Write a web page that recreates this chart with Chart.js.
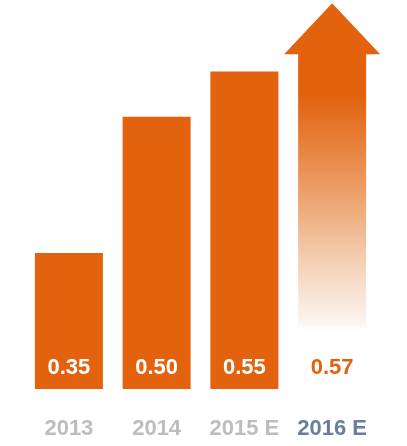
<!DOCTYPE html>
<html>
<head>
<meta charset="utf-8">
<script src="https://cdn.jsdelivr.net/npm/chart.js@4/dist/chart.umd.min.js"></script>
<style>
  html, body { margin: 0; padding: 0; background: #fff; }
  #wrap { width: 407px; height: 446px; position: relative; }
</style>
</head>
<body>
<div id="wrap"><canvas id="growthChart"></canvas></div>
<script>
// data
const years = ['2013', '2014', '2015 E', '2016 E'];
const values = [0.35, 0.50, 0.55, 0.57];
const valueLabels = ['0.35', '0.50', '0.55', '0.57'];

const orange = '#e2620e';
const yearColors = ['#bdbdbd', '#bdbdbd', '#bdbdbd', '#6a7d9c'];

// last bar: fading arrow shaft
function barFill(ctx) {
  const chart = ctx.chart;
  const area = chart.chartArea;
  if (ctx.dataIndex < 3) return orange;
  if (!area) return orange;
  const g = chart.ctx.createLinearGradient(0, area.top, 0, area.bottom);
  g.addColorStop(0, orange);
  g.addColorStop(0.23, orange);
  g.addColorStop(0.5, '#eca46f');
  g.addColorStop(0.7, '#f6d8c2');
  g.addColorStop(0.83, '#fbf5f1');
  g.addColorStop(0.85, 'rgba(255,255,255,0)');
  g.addColorStop(1, 'rgba(255,255,255,0)');
  return g;
}

const arrowAndLabels = {
  id: 'arrowAndLabels',
  afterDatasetsDraw(chart) {
    const c = chart.ctx;
    const bars = chart.getDatasetMeta(0).data;
    const yScale = chart.scales.y;
    const base = yScale.getPixelForValue(yScale.min);

    // arrow head on top of last bar
    const last = bars[bars.length - 1];
    const half = last.width / 2 + 14;
    c.save();
    c.fillStyle = orange;
    c.beginPath();
    c.moveTo(last.x - half, last.y + 1);
    c.lineTo(last.x, last.y - 50);
    c.lineTo(last.x + half, last.y + 1);
    c.closePath();
    c.fill();

    // value labels
    c.font = 'bold 22px "Liberation Sans", Arial, sans-serif';
    c.textAlign = 'center';
    c.textBaseline = 'middle';
    bars.forEach((b, i) => {
      c.fillStyle = i < 3 ? '#ffffff' : orange;
      c.fillText(valueLabels[i], b.x, base - 21);
    });
    c.restore();
  }
};

new Chart(document.getElementById('growthChart').getContext('2d'), {
  type: 'bar',
  data: {
    labels: years,
    datasets: [{
      data: values,
      backgroundColor: barFill,
      borderWidth: 0,
      barPercentage: 0.775,
      categoryPercentage: 1
    }]
  },
  options: {
    responsive: true,
    maintainAspectRatio: false,
    animation: false,
    devicePixelRatio: 1,
    layout: { padding: { left: 25, right: 31, top: 8, bottom: 0 } },
    plugins: { legend: { display: false }, tooltip: { enabled: false } },
    scales: {
      x: {
        grid: { display: false },
        border: { display: false },
        afterFit: (scale) => { scale.height = 57; },
        ticks: {
          padding: 19,
          maxRotation: 0,
          color: (ctx) => yearColors[ctx.index],
          font: { family: '"Liberation Sans", Arial, sans-serif', size: 22, weight: 'bold' }
        }
      },
      y: {
        display: false,
        min: 0.2,
        max: 0.62
      }
    }
  },
  plugins: [arrowAndLabels]
});
</script>
</body>
</html>
